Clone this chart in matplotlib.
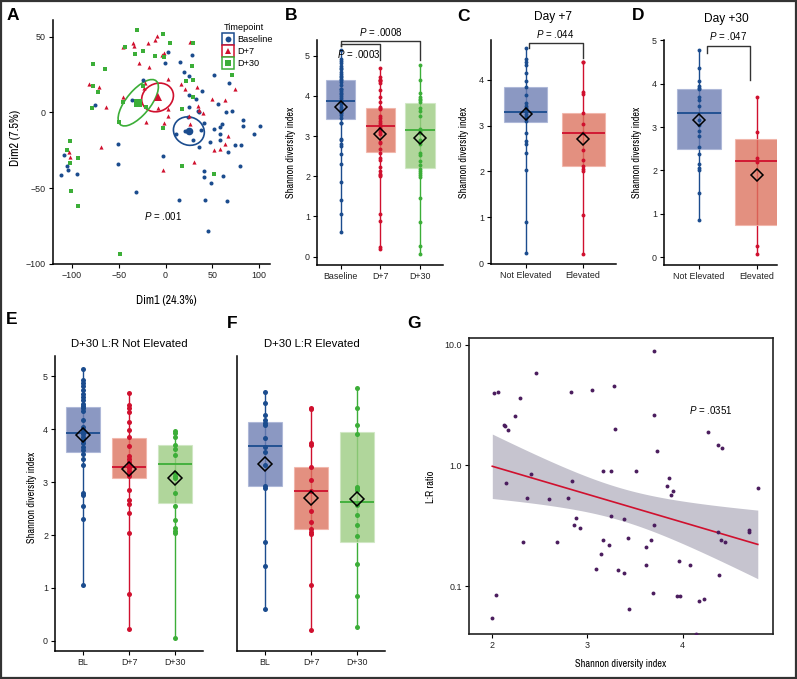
import numpy as np
import matplotlib
matplotlib.use("Agg")
import matplotlib.pyplot as plt
from matplotlib.patches import Ellipse, Rectangle
from matplotlib.lines import Line2D

# ---------------- DATA ----------------
# Panel A: PCoA coordinates (Dim1, Dim2)
pca_baseline = [(2.1, 40.0), (-0.7, 32.3), (15, 33.2), (28.4, 37.6), (19.9, 27.0), (25.2, 24.0),
                (39.1, 13.9), (32.3, 9.0), (24.9, 11.7), (24.9, 3.7), (34.1, 1.1), (35.9, 0.4),
                (52.2, 24.9), (67.8, 19.6), (56.1, 5.3), (70.7, 0.9), (65, 0), (82.1, -4.8),
                (83.1, -9.0), (100.5, -9.2), (94.8, -14.5), (60, -7.3), (58.6, -9.5), (51.9, -10.6),
                (58.3, -14.5), (47.6, -19.4), (57.9, -18.3), (35.2, -22.7), (74.2, -21.6),
                (80.9, -21.3), (66.8, -26), (79.2, -35.2), (61.8, -41.8), (48, -46.4), (40.5, -38.5),
                (40.5, -42.9), (13.9, -57.8), (42.6, -57.8), (65.4, -58.3), (44.8, -78.3),
                (11.4, -13.9), (20.6, -12.3), (37.7, -11.7), (40.8, -6.8), (28.8, -18), (24.2, -3.3),
                (-2.5, -29), (-24.5, 21.1), (-35.5, 8.1), (-75.3, 4.6), (-50.4, -20.7), (-50.4, -34.3),
                (-32, -52.8), (-94.7, -40.7), (-104.3, -38), (-104.6, -35.2), (-107.8, -28.1),
                (-111.7, -41.6)]
pca_d7 = [(-9.2, 50.4), (-11, 47.7), (-18.5, 46), (-35.2, 46), (-33.7, 43.8), (-45.8, 43.5),
          (26.6, 46.4), (-2.1, 39.4), (-3.6, 38), (-28.8, 32.3), (-17.4, 30.3), (2.1, 22),
          (-22.4, 19.6), (-23.1, 16.3), (-81.3, 18.7), (-71.4, 16.9), (-63.6, 3.3), (-45.1, 10.3),
          (-8.5, 3.1), (2.1, 2.2), (2.1, -2.2), (-21, -6.6), (-1.4, -7), (16, 18.7), (21, 15.2),
          (33.4, 16.5), (34.1, 4.4), (35.9, 1.5), (39.8, -0.2), (26.3, -7.3), (24.5, -2.4),
          (30.2, -33), (-2.8, -38), (-68.9, -22.7), (-103, -26), (-102, -29.2), (49.7, 9.2),
          (63.6, 8.4), (73.9, 15.8), (66.4, -15.8), (63.2, -20.9), (58.6, -24.2), (51.5, -25)]
pca_d30 = [(-30.5, 54.3), (-2.5, 51.7), (4.6, 46), (-43, 42.9), (-32.7, 38.5), (-23.8, 40.7),
           (-10.7, 37.4), (-1.4, 36.3), (28.8, 46), (27.7, 30.8), (21.7, 20.5), (29.8, 21.3),
           (29.5, 9.9), (17.8, 2.6), (-77.8, 31.9), (-64.7, 28.4), (-77.8, 17.4), (-72.5, 13.6),
           (-78.9, 3.1), (-24.5, 17.4), (-20.6, 3.7), (-45.1, 7), (-49.4, -6.2), (-2.8, -10.3),
           (17.4, -35.6), (71, 24.4), (52.2, -40.7), (-102, -19.1), (-105.5, -24.9), (-93, -30.3),
           (-102, -33.6), (-100.5, -51.9), (-93.8, -61.6), (-48.3, -93.5)]
timepoints = ["Baseline", "D+7", "D+30"]
centroid_x = [24.9, -8.5, -29.1]
centroid_y = [-12.3, 9.9, 6.4]
ellipse_width = [33, 34, 49]
ellipse_height = [18.7, 18.7, 19.6]
ellipse_angle = [-4, 6, 31.6]

# Panels E / F: Shannon diversity by timepoint, split by D+30 L:R status
E_bl = [1.05, 2.31, 2.55, 2.75, 2.80, 3.33, 3.44, 3.53, 3.60, 3.66, 3.73, 3.79, 3.85, 3.90, 3.95,
        3.99, 4.04, 4.17, 4.35, 4.39, 4.43, 4.48, 4.55, 4.60, 4.66, 4.74, 4.81, 4.87, 4.92, 5.13]
E_d7 = [0.23, 0.89, 2.03, 2.41, 2.59, 2.67, 2.85, 3.11, 3.16, 3.21, 3.26, 3.32, 3.38, 3.44, 3.49,
        3.68, 3.85, 3.98, 4.14, 4.33, 4.40, 4.46, 4.69]
E_d30 = [0.06, 2.03, 2.08, 2.13, 2.28, 2.54, 2.80, 3.07, 3.12, 3.17, 3.51, 3.62, 3.70, 3.85, 3.92, 3.97]
F_bl = [0.61, 1.41, 1.86, 2.89, 2.92, 3.33, 3.57, 3.67, 3.84, 4.07, 4.12, 4.18, 4.26, 4.49, 4.70]
F_d7 = [0.20, 1.06, 2.01, 2.05, 2.12, 2.24, 2.46, 2.83, 3.04, 3.28, 3.70, 3.73, 4.38, 4.40]
F_d30 = [0.27, 0.85, 1.46, 1.99, 2.18, 2.38, 2.57, 2.85, 2.88, 2.91, 3.90, 4.08, 4.39, 4.78]
bl_labels = ["BL", "D+7", "D+30"]
E_q1, E_med, E_q3, E_mean = [3.56, 3.07, 2.60], [3.93, 3.29, 3.34], [4.42, 3.84, 3.70], [3.88, 3.24, 3.08]
F_q1, F_med, F_q3, F_mean = [2.92, 2.11, 1.87], [3.68, 2.83, 2.62], [4.13, 3.28, 3.94], [3.34, 2.70, 2.68]

# Panel B: all samples by timepoint
B_q1, B_med, B_q3, B_mean = [3.42, 2.60, 2.21], [3.86, 3.24, 3.15], [4.39, 3.69, 3.81], [3.73, 3.05, 2.96]

# Panel C: Day +7 (Not Elevated / Elevated)
status_labels = ["Not Elevated", "Elevated"]
C_q1, C_med, C_q3, C_mean = [3.07, 2.13], [3.29, 2.83], [3.84, 3.28], [3.25, 2.70]

# Panel D: Day +30
D_ne = [0.85, 1.47, 2.01, 2.05, 2.14, 2.37, 2.54, 2.79, 2.91, 3.06, 3.16, 3.48, 3.62, 3.70, 3.87,
        3.90, 3.96, 4.07, 4.36, 4.79]
D_el = [0.07, 0.26, 2.19, 2.29, 2.88, 3.70]
D_q1, D_med, D_q3, D_mean = [2.50, 0.74], [3.33, 2.23], [3.87, 2.73], [3.16, 1.89]

# Panel G: Shannon index vs L:R ratio
lr_points = [(3.70, 8.95), (2.455, 5.87), (2.014, 3.96), (2.06, 4.06), (2.827, 4.09), (3.047, 4.25),
             (3.275, 4.55), (2.29, 3.60), (2.24, 2.58), (3.70, 2.60), (2.12, 2.17), (2.137, 2.12),
             (2.17, 1.96), (3.29, 1.99), (4.263, 1.90), (4.375, 1.49), (4.41, 1.39), (3.734, 1.31),
             (3.16, 0.90), (3.243, 0.90), (3.506, 0.90), (2.403, 0.85), (3.853, 0.79), (2.834, 0.74),
             (2.144, 0.72), (3.832, 0.68), (4.79, 0.65), (3.90, 0.61), (3.88, 0.57), (2.368, 0.54),
             (2.80, 0.54), (2.595, 0.53), (3.25, 0.38), (2.883, 0.37), (3.38, 0.36), (2.855, 0.32),
             (3.70, 0.32), (2.918, 0.30), (4.694, 0.29), (4.694, 0.28), (4.375, 0.28), (2.319, 0.23),
             (2.683, 0.23), (3.159, 0.24), (3.422, 0.25), (3.664, 0.24), (4.403, 0.24), (4.448, 0.23),
             (3.229, 0.22), (3.615, 0.21), (3.142, 0.185), (3.96, 0.16), (3.611, 0.15), (4.074, 0.15),
             (3.089, 0.139), (3.317, 0.135), (3.38, 0.129), (4.378, 0.123), (2.035, 0.085),
             (3.685, 0.088), (3.94, 0.083), (3.975, 0.082), (4.22, 0.078), (4.168, 0.075),
             (3.44, 0.064), (2.0, 0.054), (4.14, 0.040)]

# ---------------- STYLE ----------------
W, H = 797, 679
plt.rcParams["font.family"] = ["Liberation Sans", "DejaVu Sans"]
plt.rcParams["mathtext.fontset"] = "custom"
plt.rcParams["mathtext.rm"] = "Liberation Sans"
plt.rcParams["mathtext.it"] = "Liberation Sans:italic"
NARROW = ["Archivo Narrow", "Liberation Sans", "DejaVu Sans"]
TICK_FS = 6.4
LAB_FS = 7.4
BLUE, RED, GREEN = "#1b4c8e", "#d0102e", "#3cae38"
FILLS = ["#6e7fb3", "#dd7460", "#9ccc82"]
EDGES = ["#a9b4d6", "#f1b3a8", "#cfe7c2"]
COLS = [BLUE, RED, GREEN]

fig = plt.figure(figsize=(W / 100, H / 100), dpi=100)
fig.patch.set_facecolor("white")
fig.patches.append(Rectangle((0.001, 0.001), 0.998, 0.997, transform=fig.transFigure,
                             fill=False, edgecolor="#333333", lw=1.6))


def axpx(l, t, r, b):
    return fig.add_axes([l / W, 1 - b / H, (r - l) / W, (b - t) / H])


def ftext(x, y, s, **kw):
    fig.text(x / W, 1 - y / H, s, **kw)


def style_ax(ax):
    for s in ["top", "right"]:
        ax.spines[s].set_visible(False)
    for s in ["left", "bottom"]:
        ax.spines[s].set_linewidth(1.1)
    ax.tick_params(length=3, width=0.8, labelsize=TICK_FS, labelcolor="#222222", pad=2)
    ax.patch.set_alpha(0)


def box_panel(ax, groups, cols, fills, edges, q1, med, q3, mean, width, ms, dms):
    for i, vals in enumerate(groups):
        vals = np.asarray(vals)
        ax.vlines(i, vals.min(), vals.max(), color=cols[i], lw=1.0, zorder=1)
        st = [dict(med=med[i], q1=q1[i], q3=q3[i], whislo=q1[i], whishi=q3[i], fliers=[])]
        ax.bxp(st, positions=[i], widths=width, patch_artist=True, showcaps=False,
               showfliers=False, manage_ticks=False, zorder=2,
               boxprops=dict(facecolor=fills[i], edgecolor=edges[i], lw=0.8, alpha=0.8),
               medianprops=dict(color=cols[i], lw=1.3),
               whiskerprops=dict(lw=0))
        ax.plot(np.full(len(vals), i), vals, "o", ms=ms, color=cols[i], mew=0, zorder=4)
        ax.plot(i, mean[i], "D", ms=dms, mfc="none", mec="black", mew=1.1, zorder=5)


def bracket(ax, x0, x1, ytop, y0, y1):
    ax.plot([x0, x0, x1, x1], [y0, ytop, ytop, y1], color="#333333", lw=1.0, clip_on=False, zorder=6)


# ---------------- Panel A ----------------
axA = axpx(53, 20, 270, 264)
style_ax(axA)
for pts, col, mk, msz in [(pca_baseline, BLUE, "o", 2.9), (pca_d7, RED, "^", 3.0), (pca_d30, GREEN, "s", 2.7)]:
    arr = np.array(pts)
    axA.plot(arr[:, 0], arr[:, 1], mk, ms=msz, color=col, mew=0, ls="none")
cmk = ["o", "^", "s"]
for i in range(3):
    axA.add_patch(Ellipse((centroid_x[i], centroid_y[i]), ellipse_width[i], ellipse_height[i],
                          angle=ellipse_angle[i], fill=False, edgecolor=COLS[i], lw=1.2))
    axA.plot(centroid_x[i], centroid_y[i], cmk[i], ms=5.5, color=COLS[i], mew=0)
axA.set_xlim(-120, 111.4)
axA.set_ylim(-100, 61)
axA.set_xticks([-100, -50, 0, 50, 100])
axA.set_yticks([-100, -50, 0, 50])
axA.text(-2.5, -68.4, "$P$ = .001", ha="center", va="center", fontsize=7)
ftext(166, 301, "Dim1 (24.3%)", ha="center", va="center", fontsize=8.6, family=NARROW)
ftext(16, 138, "Dim2 (7.5%)", ha="center", va="center", fontsize=8.8, family=NARROW, rotation=90)
handles = []
for i in range(3):
    frame = Line2D([], [], marker="s", ms=8.5, mfc="white", mec=COLS[i], mew=1.1, ls="none")
    inner = Line2D([], [], marker=cmk[i], ms=4.2, color=COLS[i], mew=0, ls="none")
    handles.append((frame, inner))
fig.legend(handles, timepoints, title="Timepoint", loc="upper left",
           bbox_to_anchor=(219 / W, 1 - 18 / H), frameon=False, borderpad=0, fontsize=6.6,
           title_fontsize=6.6, handlelength=1.0, handletextpad=0.5, labelspacing=0.35,
           alignment="left")

# ---------------- Panel B ----------------
axB = axpx(317, 40, 443, 265)
style_ax(axB)
B_groups = [E_bl + F_bl, E_d7 + F_d7, E_d30 + F_d30]
box_panel(axB, B_groups, COLS, FILLS, EDGES, B_q1, B_med, B_q3, B_mean, 0.74, 2.8, 6.0)
axB.set_xlim(-0.6, 2.58)
axB.set_ylim(-0.21, 5.39)
axB.set_xticks(range(3))
axB.set_xticklabels(timepoints)
axB.set_yticks(range(6))
bracket(axB, 0, 2, 5.36, 5.23, 4.88)
bracket(axB, 0, 1, 5.30, 5.23, 4.90)
ftext(380.7, 32.3, "$P$ = .0008", ha="center", va="center", fontsize=7)
ftext(359, 54.3, "$P$ = .0003", ha="center", va="center", fontsize=7)
ftext(291.5, 152, "Shannon diversity index", ha="center", va="center", fontsize=LAB_FS,
      family=NARROW, rotation=90)

# ---------------- Panel C ----------------
axC = axpx(491, 40, 616, 264)
style_ax(axC)
box_panel(axC, [E_d7, F_d7], [BLUE, RED], FILLS[:2], EDGES[:2], C_q1, C_med, C_q3, C_mean, 0.75, 2.8, 6.0)
axC.set_xlim(-0.6, 1.57)
axC.set_ylim(-0.02, 4.87)
axC.set_xticks([0, 1])
axC.set_xticklabels(status_labels)
axC.set_yticks(range(5))
bracket(axC, 0.06, 1.0, 4.81, 4.70, 4.48)
ftext(555, 34, "$P$ = .044", ha="center", va="center", fontsize=7)
ftext(553.3, 17.3, "Day +7", ha="center", va="center", fontsize=8.6)
ftext(464, 152, "Shannon diversity index", ha="center", va="center", fontsize=LAB_FS,
      family=NARROW, rotation=90)

# ---------------- Panel D ----------------
axD = axpx(664, 40, 777, 265)
style_ax(axD)
box_panel(axD, [D_ne, D_el], [BLUE, RED], FILLS[:2], EDGES[:2], D_q1, D_med, D_q3, D_mean, 0.76, 2.8, 6.0)
axD.set_xlim(-0.61, 1.35)
axD.set_ylim(-0.18, 5.01)
axD.set_xticks([0, 1])
axD.set_xticklabels(status_labels)
axD.set_yticks(range(6))
bracket(axD, 0.14, 0.88, 4.88, 4.71, 4.08)
ftext(728, 35.7, "$P$ = .047", ha="center", va="center", fontsize=7)
ftext(726.7, 19, "Day +30", ha="center", va="center", fontsize=8.6)
ftext(637.5, 152, "Shannon diversity index", ha="center", va="center", fontsize=LAB_FS,
      family=NARROW, rotation=90)

# ---------------- Panel E ----------------
axE = axpx(55, 356, 203, 651)
style_ax(axE)
box_panel(axE, [E_bl, E_d7, E_d30], COLS, FILLS, EDGES, E_q1, E_med, E_q3, E_mean, 0.74, 3.6, 6.8)
axE.set_xlim(-0.61, 2.61)
axE.set_ylim(-0.19, 5.38)
axE.set_xticks(range(3))
axE.set_xticklabels(bl_labels)
axE.set_yticks(range(6))
ftext(129.3, 344.3, "D+30 L:R Not Elevated", ha="center", va="center", fontsize=8.2)
ftext(32, 497, "Shannon diversity index", ha="center", va="center", fontsize=LAB_FS,
      family=NARROW, rotation=90)

# ---------------- Panel F ----------------
axF = axpx(237, 356, 385, 651)
style_ax(axF)
box_panel(axF, [F_bl, F_d7, F_d30], COLS, FILLS, EDGES, F_q1, F_med, F_q3, F_mean, 0.74, 3.6, 6.8)
axF.set_xlim(-0.61, 2.61)
axF.set_ylim(-0.19, 5.38)
axF.set_xticks(range(3))
axF.set_xticklabels(bl_labels)
axF.set_yticks([])
ftext(311.7, 344.3, "D+30 L:R Elevated", ha="center", va="center", fontsize=8.2)

# ---------------- Panel G ----------------
axG = axpx(469, 338, 773, 634)
lp = np.array(lr_points)
gx, gy = lp[:, 0], lp[:, 1]
ly = np.log10(gy)
slope, icpt = np.polyfit(gx, ly, 1)
n = len(gx)
resid = ly - (slope * gx + icpt)
s = np.sqrt(np.sum(resid ** 2) / (n - 2))
xbar = gx.mean()
sxx = np.sum((gx - xbar) ** 2)
xs = np.linspace(gx.min(), gx.max(), 200)
fit = slope * xs + icpt
half = 1.997 * s * np.sqrt(1 / n + (xs - xbar) ** 2 / sxx)
axG.fill_between(xs, 10 ** (fit - half), 10 ** (fit + half), color="#c6c4cf", lw=0, zorder=1)
axG.plot(xs, 10 ** fit, color="#d0102e", lw=1.2, zorder=3)
axG.plot(gx, gy, "o", ms=2.8, color="#4b1d5e", mew=0, zorder=4)
axG.set_yscale("log")
axG.set_xlim(1.755, 4.95)
axG.set_ylim(0.04, 11.4)
axG.set_yticks([0.1, 1, 10])
axG.set_yticklabels(["0.1", "1.0", "10.0"])
axG.minorticks_off()
axG.set_xticks([2, 3, 4])
for sp in axG.spines.values():
    sp.set_linewidth(1.2)
    sp.set_color("#222222")
axG.tick_params(length=3, width=0.8, labelsize=TICK_FS, labelcolor="#222222", pad=2)
axG.text(4.07, 2.9, "$P$ = .0351", ha="left", va="center", fontsize=7)
ftext(621, 664, "Shannon diversity index", ha="center", va="center", fontsize=LAB_FS, family=NARROW)
ftext(431, 487, "L:R ratio", ha="center", va="center", fontsize=LAB_FS, family=NARROW, rotation=90)

# ---------------- Panel letters ----------------
for lab, x, y in [("A", 13, 16), ("B", 291.5, 15.5), ("C", 463.5, 16.5), ("D", 638, 15.7),
                  ("E", 12, 320), ("F", 232, 323), ("G", 414, 323)]:
    ftext(x, y, lab, ha="center", va="center", fontsize=12.5, fontweight="bold")

fig.savefig("out.png", dpi=100)
